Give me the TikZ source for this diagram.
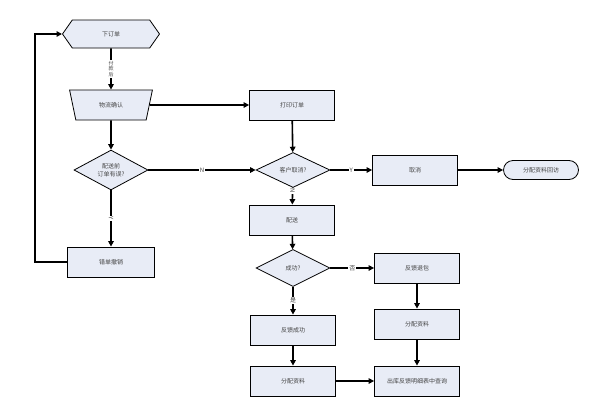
\documentclass[tikz,border=0pt]{standalone}
\usepackage{fontspec}
\newfontfamily\cjk{Noto Sans CJK SC}
\usetikzlibrary{shapes.geometric,shapes.misc,shapes.symbols,arrows.meta}
\definecolor{boxfill}{HTML}{E8ECF6}
\definecolor{txtgray}{HTML}{444444}
\tikzset{
 every node/.style={font=\cjk\fontsize{6pt}{7.5pt}\selectfont,text=txtgray},
 box/.style={draw,line width=0.8pt,fill=boxfill,minimum width=85pt,minimum height=30pt,inner sep=1pt},
 decide/.style={draw,line width=0.8pt,fill=boxfill,diamond,inner sep=0pt,minimum width=74pt,minimum height=35pt,align=center},
 flow/.style={line width=1.6pt,-{Triangle[length=5.5pt,width=5.5pt]}},
 lbl/.style={fill=white,inner sep=0.8pt,text=txtgray}
}
\begin{document}
\begin{tikzpicture}[x=1pt,y=-1pt]
 \useasboundingbox (0,0) rectangle (591,415);

 \node[draw,line width=0.8pt,fill=boxfill,signal,signal to=west and east,signal pointer angle=110,minimum width=97pt,minimum height=28pt,inner sep=1pt] (order) at (111,34) {下订单};

 \node[draw,line width=0.8pt,fill=boxfill,trapezium,trapezium stretches=true,shape border rotate=180,trapezium angle=73,minimum width=83pt,minimum height=30pt,inner sep=1pt] (confirm) at (111,105) {物流确认};

 \node[box] (print) at (292,105) {打印订单};

 \node[decide] (wrong) at (111,170) {配送前\\订单有误?};

 \node[decide] (cancelq) at (293,170) {客户取消?};

 \node[box] (cancel) at (415,170) {取消};

 \node[draw,line width=0.8pt,fill=boxfill,rounded rectangle,minimum width=77pt,minimum height=19pt,inner sep=1pt] (visit) at (541,170) {分配资料回访};

 \node[box] (deliver) at (292,220) {配送};

 \node[box,minimum width=87pt] (revoke) at (111,262) {错单撤销};

 \node[decide,minimum height=37pt] (ok) at (293,268) {成功?};

 \node[box] (back) at (417,268) {反馈退包};

 \node[box] (success) at (293,330) {反馈成功};

 \node[box] (assign2) at (417,324) {分配资料};

 \node[box] (assign1) at (293,381) {分配资料};

 \node[box] (query) at (417,381) {出库反馈明细表中查询};

 \coordinate (turn1) at (35,262);
 \coordinate (turn2) at (35,34);

 \draw[flow] (order) -- node[lbl,align=center,font=\cjk\fontsize{5pt}{5.5pt}\selectfont] {付\\款\\后} (confirm);
 \draw[flow] (confirm) -- (print);
 \draw[flow] (confirm) -- (wrong);
 \draw[flow] (print) -- (cancelq);
 \draw[flow] (wrong) -- node[lbl] {N} (cancelq);
 \draw[flow] (wrong) -- node[lbl,rotate=-90] {Y} (revoke);
 \draw[flow] (cancelq) -- node[lbl] {Y} (cancel);
 \draw[flow] (cancel) -- (visit);
 \draw[flow] (cancelq) -- node[lbl,rotate=-90,pos=0.2] {N} (deliver);
 \draw[flow] (deliver) -- (ok);
 \draw[flow] (ok) -- node[lbl] {否} (back);
 \draw[flow] (ok) -- node[lbl] {是} (success);
 \draw[flow] (back) -- (assign2);
 \draw[flow] (success) -- (assign1);
 \draw[flow] (assign2) -- (query);
 \draw[flow] (assign1) -- (query);
 \draw[flow] (revoke) -- (turn1) -- (turn2) -- (order);

\end{tikzpicture}
\end{document}
